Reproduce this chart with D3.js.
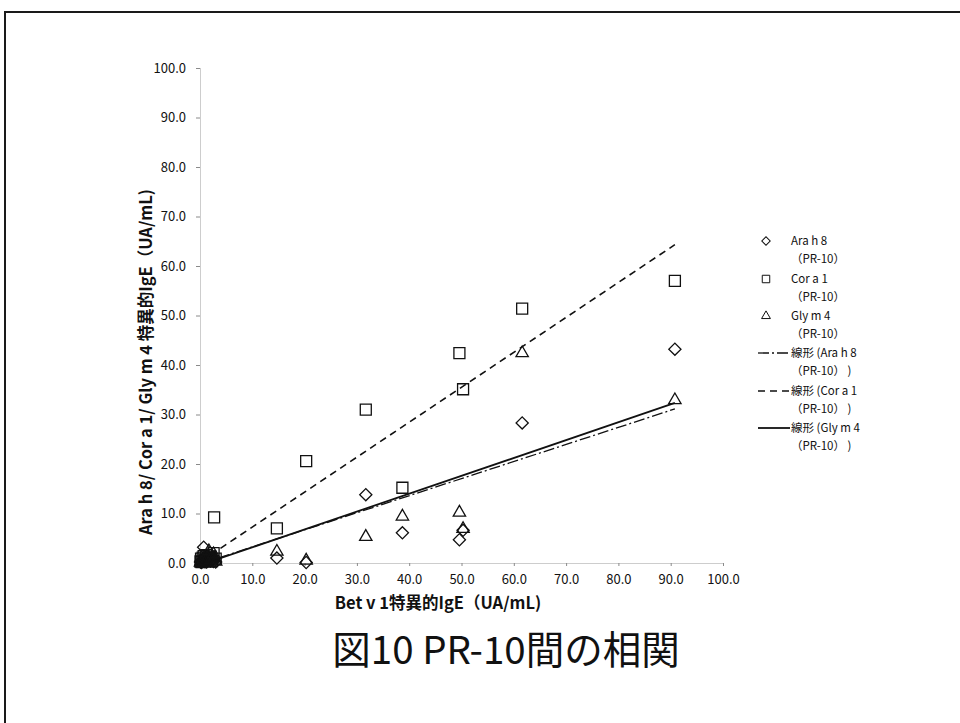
<!DOCTYPE html>
<html>
<head>
<meta charset="utf-8">
<script src="https://cdn.jsdelivr.net/npm/d3@7"></script>
<style>
  html, body { margin: 0; padding: 0; background: #fff; }
  svg { display: block; }
  text { font-family: "Noto Sans CJK JP", "Noto Sans", sans-serif; fill: #111; }
</style>
</head>
<body>
<svg id="chart" width="960" height="723"></svg>
<script>
// Bet v 1 specific IgE per patient (x) and the three PR-10 specific IgE values (y)
const betV1 = [90.8, 61.6, 50.3, 49.6, 38.7, 31.7, 20.3, 14.7,
               0.1, 0.2, 0.3, 0.5, 0.7, 0.8, 1.0, 1.2, 1.4, 1.7, 2.0, 2.3, 2.6, 2.7, 3.0];
const arah8 = [43.2, 28.3, 6.6, 4.7, 6.1, 13.8, 0.1, 1.0,
               0.2, 0.4, 0.1, 0.6, 3.2, 0.3, 0.9, 0.2, 0.5, 1.1, 0.4, 0.7, 0.3, 0.8, 0.2];
const cora1 = [57.0, 51.4, 35.1, 42.4, 15.2, 31.0, 20.6, 7.0,
               0.3, 0.9, 0.2, 1.1, 1.4, 0.5, 0.7, 1.6, 0.3, 0.8, 1.3, 0.4, 2.0, 9.2, 0.9];
const glym4 = [32.9, 42.4, 6.9, 10.2, 9.4, 5.3, 0.5, 2.3,
               0.1, 0.3, 0.0, 0.5, 0.8, 0.2, 1.2, 0.4, 0.9, 2.4, 0.6, 1.0, 1.8, 1.1, 0.3];

// Linear trendlines (slope, intercept) for each series
const trendSlope     = [0.345, 0.706, 0.361];
const trendIntercept = [-0.2, 0.2, -0.44];
const trendRange = [0.1, 90.8];

const seriesNames = ["Ara h 8", "Cor a 1", "Gly m 4"];
const axisTicks = [0, 10, 20, 30, 40, 50, 60, 70, 80, 90, 100];

const svg = d3.select("#chart");

// outer frame
svg.append("path")
  .attr("d", "M970,12 L5,12 L5,730")
  .attr("fill", "none").attr("stroke", "#1a1a1a").attr("stroke-width", 2);

const x = d3.scaleLinear().domain([0, 100]).range([200, 723]);
const y = d3.scaleLinear().domain([0, 100]).range([563, 68]);

// axes
const yAxis = svg.append("g").attr("transform", "translate(200,0)")
  .call(d3.axisLeft(y).tickValues(axisTicks).tickFormat(d3.format(".1f"))
    .tickSize(4).tickSizeOuter(0).tickPadding(10));
const xAxis = svg.append("g").attr("transform", "translate(0,563)")
  .call(d3.axisBottom(x).tickValues(axisTicks).tickFormat(d3.format(".1f"))
    .tickSize(3).tickSizeOuter(0).tickPadding(9));
[xAxis, yAxis].forEach(g => {
  g.select(".domain").attr("stroke", "#9a9a9a").attr("stroke-dasharray", "1,1");
  g.selectAll(".tick line").attr("stroke", "#8a8a8a");
  g.selectAll(".tick text").attr("font-size", 13)
    .attr("font-family", "'Noto Sans CJK JP', sans-serif").attr("fill", "#111");
});

// axis titles
svg.append("text")
  .attr("x", 438).attr("y", 609).attr("text-anchor", "middle")
  .attr("font-size", 16.5).attr("font-weight", "bold")
  .text("Bet v 1特異的IgE（UA/mL)");
svg.append("text")
  .attr("transform", "translate(152,362) rotate(-90)")
  .attr("text-anchor", "middle")
  .attr("font-size", 16.5).attr("font-weight", "bold")
  .text("Ara h 8/ Cor a 1/ Gly m 4 特異的IgE（UA/mL)");

// chart title
svg.append("text")
  .attr("x", 506).attr("y", 664).attr("text-anchor", "middle")
  .attr("font-size", 38.5)
  .text("図10 PR-10間の相関");

// marker generators
const markerPath = [
  d3.symbol(d3.symbolSquare, 74)(),   // diamond (rotated square)
  d3.symbol(d3.symbolSquare, 121)(),  // square
  d3.symbol(d3.symbolTriangle, 66)()  // triangle
];
const markerRotate = [45, 0, 0];
const legendPath = [
  d3.symbol(d3.symbolSquare, 36)(),
  d3.symbol(d3.symbolSquare, 56)(),
  d3.symbol(d3.symbolTriangle, 34)()
];
const lineDash = ["11,3,2,3", "7,5", null];
const lineWidth = [1.3, 1.6, 1.8];

// trendlines
trendSlope.forEach((m, i) => {
  const pts = trendRange.map(v => [x(v), y(m * v + trendIntercept[i])]);
  svg.append("path")
    .attr("d", d3.line()(pts))
    .attr("fill", "none").attr("stroke", "#111")
    .attr("stroke-width", lineWidth[i])
    .attr("stroke-dasharray", lineDash[i]);
});

// scatter points
[arah8, cora1, glym4].forEach((vals, i) => {
  svg.append("g").selectAll("path")
    .data(vals.map((v, k) => [betV1[k], v]))
    .join("path")
    .attr("d", markerPath[i])
    .attr("transform", d => `translate(${x(d[0])},${y(d[1])}) rotate(${markerRotate[i]})`)
    .attr("fill", "none").attr("stroke", "#111").attr("stroke-width", 1.3);
});

// legend
const legendRows = [241, 279, 316, 353, 391, 428];
const lg = svg.append("g").attr("font-size", 11.5);
seriesNames.forEach((name, i) => {
  const yy = legendRows[i];
  lg.append("path").attr("d", legendPath[i])
    .attr("transform", `translate(766,${yy}) rotate(${markerRotate[i]})`)
    .attr("fill", "none").attr("stroke", "#111").attr("stroke-width", 1);
  lg.append("text").attr("x", 791).attr("y", yy).attr("dy", "0.35em").text(name);
  lg.append("text").attr("x", 791).attr("y", yy + 18).attr("dy", "0.35em").text("（PR-10）");
});
seriesNames.forEach((name, i) => {
  const yy = legendRows[i + 3];
  lg.append("line").attr("x1", 758).attr("x2", 790).attr("y1", yy).attr("y2", yy)
    .attr("stroke", "#111").attr("stroke-width", lineWidth[i])
    .attr("stroke-dasharray", lineDash[i]);
  lg.append("text").attr("x", 791).attr("y", yy).attr("dy", "0.35em").text("線形 (" + name);
  lg.append("text").attr("x", 791).attr("y", yy + 18).attr("dy", "0.35em").text("（PR-10） )");
});
</script>
</body>
</html>
